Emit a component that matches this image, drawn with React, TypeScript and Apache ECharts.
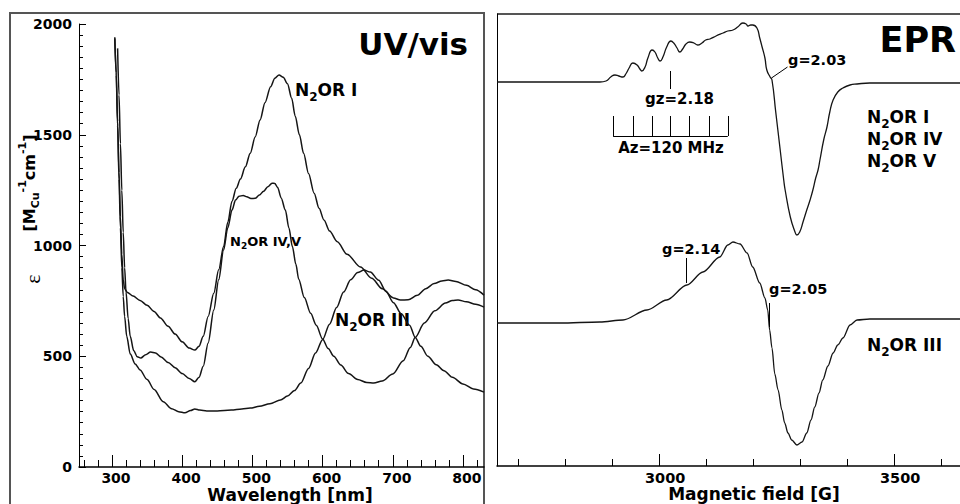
import React, { useEffect, useRef } from "react";
import * as echarts from "echarts";

const FONT = "DejaVu Sans";
const INK = "#151515";

// UV/vis spectra: [wavelength (nm), epsilon (M_Cu^-1 cm^-1)]
const uvN2orI: number[][] = [
  [304, 1940], [306, 1780], [308, 1560], [310, 1330], [312, 1130], [314, 960], [316, 845], [318, 805],
  [322, 788], [330, 772], [340, 752], [350, 730], [360, 702], [369, 673], [380, 635], [390, 600],
  [400, 565], [410, 537], [418, 528], [424, 545], [430, 590], [437, 680], [445, 784], [452, 890],
  [459, 995], [465, 1105], [471, 1200], [477, 1258], [483, 1300], [490, 1355], [497, 1417], [504, 1490],
  [511, 1567], [518, 1645], [526, 1717], [532, 1755], [538, 1770], [544, 1760], [550, 1730], [556, 1665],
  [561, 1585], [567, 1500], [573, 1416], [580, 1325], [588, 1236], [595, 1168], [602, 1115], [610, 1065],
  [621, 1017], [635, 960], [654, 903], [670, 852], [685, 805], [701, 763], [711, 754], [722, 755],
  [735, 775], [747, 805], [759, 828], [770, 840], [779, 844], [790, 838], [805, 820], [818, 800], [830, 776],
];

const uvN2orIVV: number[][] = [
  [308, 1890], [310, 1680], [312, 1460], [314, 1250], [316, 1060], [318, 900], [320, 790], [323, 670],
  [326, 590], [331, 525], [336, 498], [341, 492], [348, 507], [355, 519], [362, 515], [370, 497],
  [380, 472], [390, 448], [400, 422], [410, 400], [418, 385], [424, 405], [430, 455], [437, 560],
  [445, 709], [452, 845], [459, 980], [465, 1080], [471, 1160], [476, 1205], [481, 1222], [487, 1226],
  [492, 1220], [498, 1212], [504, 1213], [510, 1228], [516, 1245], [522, 1265], [528, 1281], [532, 1280],
  [536, 1262], [541, 1215], [547, 1160], [552, 1080], [557, 995], [562, 915], [566, 848], [574, 765],
  [583, 694], [591, 640], [600, 578], [608, 535], [616, 500], [626, 460], [637, 422], [650, 395],
  [663, 382], [673, 379], [685, 388], [700, 420], [715, 480], [725, 540], [732, 585], [745, 650],
  [760, 705], [775, 740], [785, 752], [793, 754], [805, 746], [818, 735], [830, 722],
];

const uvN2orIII: number[][] = [
  [304, 1935], [306, 1770], [308, 1540], [310, 1300], [312, 1080], [314, 900], [316, 770], [318, 680],
  [321, 590], [326, 510], [333, 465], [340, 438], [350, 395], [360, 350], [373, 295], [385, 263],
  [395, 250], [404, 245], [412, 255], [418, 262], [425, 257], [435, 253], [450, 253], [470, 257],
  [485, 262], [497, 266], [510, 274], [525, 286], [540, 302], [550, 320], [560, 345], [569, 379],
  [580, 445], [590, 515], [600, 575], [610, 645], [620, 720], [630, 790], [640, 845], [650, 878],
  [659, 889], [668, 880], [680, 843], [690, 795], [701, 742], [712, 692], [724, 640], [732, 585],
  [740, 545], [750, 500], [762, 462], [773, 435], [785, 405], [800, 375], [815, 352], [830, 338],
];

const uvMajorTicks = [300, 400, 500, 600, 700, 800];
const uvMinorTicks = [260, 280, 320, 340, 360, 380, 420, 440, 460, 480, 520, 540, 560, 580, 620, 640, 660, 680, 720, 740, 760, 780, 820];

// EPR spectra: [magnetic field (G), derivative signal (a.u.)]
const eprUpper: number[][] = [
  [2655, 0], [2874, 0], [2887, 1], [2897, 5], [2906, 7], [2914, 6], [2923, 5], [2929, 8], [2936, 14],
  [2944, 19], [2953, 17], [2959, 13], [2963, 11], [2970, 15], [2976, 24], [2985, 32], [2991, 30],
  [2997, 24], [3002, 21], [3008, 25], [3016, 35], [3025, 41], [3031, 39], [3038, 34], [3044, 30],
  [3050, 33], [3057, 38], [3065, 40], [3074, 39], [3082, 37], [3091, 39], [3099, 42], [3108, 43],
  [3121, 46], [3136, 49], [3146, 51], [3157, 52], [3167, 55], [3178, 59], [3185, 58], [3189, 56],
  [3195, 57], [3199, 57], [3208, 54], [3214, 44], [3219, 35], [3225, 24], [3229, 12], [3236, 5],
  [3240, 2], [3248, -30], [3257, -66], [3265, -98], [3268, -108], [3279, -135], [3289, -150],
  [3293, -153], [3299, -150], [3306, -140], [3314, -128], [3321, -118], [3327, -108], [3333, -96],
  [3338, -88], [3342, -78], [3350, -58], [3357, -45], [3363, -30], [3370, -18], [3380, -10],
  [3391, -6], [3406, -3], [3421, -2], [3448, -1], [3640, -1],
];

const eprLower: number[][] = [
  [2655, -1], [2789, -1], [2874, 0], [2923, 2], [2974, 12], [3016, 22], [3059, 37], [3093, 50],
  [3129, 65], [3146, 77], [3157, 80], [3172, 78], [3187, 69], [3199, 55], [3214, 39], [3225, 24],
  [3231, 12], [3235, -8], [3240, -26], [3246, -52], [3253, -68], [3261, -88], [3267, -101], [3274, -111],
  [3282, -118], [3293, -123], [3304, -120], [3314, -111], [3323, -98], [3331, -85], [3340, -71],
  [3348, -58], [3359, -44], [3370, -31], [3380, -23], [3391, -16], [3406, -3], [3421, 2], [3448, 3], [3640, 3],
];

const eprUpperOffset = 384;
const eprLowerOffset = 144;

const eprMajorTicks = [3000, 3500];
const eprMinorTicks = [2700, 2800, 2900, 3100, 3200, 3300, 3400, 3600];

// EPR annotation marks (field G, signal level a.u.)
const azTicks = [2902, 2944, 2985, 3024, 3065, 3106, 3146];
const azLevel = 330;
const azTickTop = 350;
const gMarkers = [
  { field: 3023, lo: 377, hi: 395 },
  { field: 3057, lo: 183, hi: 208 },
  { field: 3235, lo: 139, hi: 163 },
];
const g203Leader = [[3239, 388], [3273, 399]];

function n2orText(suffix: string, size: number, x: number, y: number) {
  return {
    type: "text",
    x,
    y,
    silent: true,
    style: {
      text: `{m|N}{s|2}{m|OR ${suffix}}`,
      align: "left",
      verticalAlign: "middle",
      fill: "#000",
      rich: {
        m: { fontSize: size, fontWeight: "bold", fontFamily: FONT, lineHeight: size * 1.5, verticalAlign: "middle", fill: "#000" },
        s: { fontSize: Math.round(size * 0.68), fontWeight: "bold", fontFamily: FONT, lineHeight: Math.round(size * 0.68), verticalAlign: "bottom", fill: "#000" },
      },
    },
  };
}

function plainText(text: string, x: number, y: number, size: number, align: string, extra: any = {}) {
  return {
    type: "text",
    x,
    y,
    silent: true,
    style: {
      text,
      align,
      verticalAlign: "middle",
      fontSize: size,
      fontWeight: "bold",
      fontFamily: FONT,
      fill: "#000",
      ...extra,
    },
  };
}

function boldLabel(size: number, pad: number[]) {
  return {
    formatter: (v: number) => `{b|${v}}`,
    rich: { b: { fontSize: size, fontWeight: "bold", fontFamily: FONT, color: "#000", padding: pad } },
    fontFamily: FONT,
    fontWeight: "bold",
    fontSize: size,
    color: "#000",
  };
}

export default function App() {
  const ref = useRef<HTMLDivElement>(null);

  useEffect(() => {
    if (!ref.current) return;
    const chart = echarts.init(ref.current, null, { renderer: "svg" });

    const markLines: any[] = [];
    gMarkers.forEach((m) => {
      markLines.push([{ coord: [m.field, m.lo] }, { coord: [m.field, m.hi] }]);
    });
    markLines.push([{ coord: [azTicks[0], azLevel] }, { coord: [azTicks[azTicks.length - 1], azLevel] }]);
    azTicks.forEach((t) => {
      markLines.push([{ coord: [t, azLevel] }, { coord: [t, azTickTop] }]);
    });
    markLines.push([{ coord: g203Leader[0] }, { coord: g203Leader[1] }]);

    const option: any = {
      animation: false,
      backgroundColor: "#fff",
      textStyle: { fontFamily: FONT },
      grid: [
        { left: 79, top: 24, width: 405, height: 443, outerBoundsMode: "none" },
        { left: 497, top: 14, width: 463, height: 452, outerBoundsMode: "none" },
      ],
      xAxis: [
        {
          gridIndex: 0, type: "value", position: "bottom", min: 253, max: 830,
          axisLine: { show: true, lineStyle: { color: "#000", width: 1.5 } },
          axisTick: { show: true, inside: true, length: 12, customValues: uvMajorTicks, lineStyle: { color: "#000", width: 1 } },
          axisLabel: { ...boldLabel(14, [0, 0, 0, 8]), margin: 4, customValues: uvMajorTicks },
          splitLine: { show: false },
        },
        {
          gridIndex: 0, type: "value", position: "bottom", min: 253, max: 830,
          axisLine: { show: false },
          axisTick: { show: true, inside: true, length: 7, customValues: uvMinorTicks, lineStyle: { color: "#000", width: 1 } },
          axisLabel: { show: false },
          splitLine: { show: false },
        },
        {
          gridIndex: 1, type: "value", position: "bottom", min: 2655, max: 3640,
          axisLine: { show: true, lineStyle: { color: "#000", width: 1.5 } },
          axisTick: { show: true, inside: true, length: 12, customValues: eprMajorTicks, lineStyle: { color: "#000", width: 1 } },
          axisLabel: { ...boldLabel(14.5, [0, 0, 0, 12]), margin: 4, customValues: eprMajorTicks },
          splitLine: { show: false },
        },
        {
          gridIndex: 1, type: "value", position: "bottom", min: 2655, max: 3640,
          axisLine: { show: false },
          axisTick: { show: true, inside: true, length: 7, customValues: eprMinorTicks, lineStyle: { color: "#000", width: 1 } },
          axisLabel: { show: false },
          splitLine: { show: false },
        },
      ],
      yAxis: [
        {
          gridIndex: 0, type: "value", min: 0, max: 2000, interval: 500,
          axisLine: { show: true, lineStyle: { color: "#000", width: 1 } },
          axisTick: { show: true, inside: true, length: 7, lineStyle: { color: "#000" } },
          minorTick: { show: true, splitNumber: 10, length: 4, lineStyle: { color: "#000" } },
          axisLabel: { ...boldLabel(14, [0, 0, 0, 0]), margin: 7 },
          splitLine: { show: false },
          minorSplitLine: { show: false },
        },
        {
          gridIndex: 1, type: "value", min: 0, max: 452,
          axisLine: { show: true, lineStyle: { color: "#000", width: 1 } },
          axisTick: { show: false },
          axisLabel: { show: false },
          splitLine: { show: false },
        },
      ],
      series: [
        { name: "N2OR I", type: "line", xAxisIndex: 0, yAxisIndex: 0, data: uvN2orI, showSymbol: false, smooth: 0.3, smoothMonotone: "x", lineStyle: { color: INK, width: 1.5 }, silent: true },
        { name: "N2OR IV,V", type: "line", xAxisIndex: 0, yAxisIndex: 0, data: uvN2orIVV, showSymbol: false, smooth: 0.3, smoothMonotone: "x", lineStyle: { color: INK, width: 1.5 }, silent: true },
        { name: "N2OR III", type: "line", xAxisIndex: 0, yAxisIndex: 0, data: uvN2orIII, showSymbol: false, smooth: 0.3, smoothMonotone: "x", lineStyle: { color: INK, width: 1.5 }, silent: true },
        {
          name: "EPR N2OR I/IV/V", type: "line", xAxisIndex: 2, yAxisIndex: 1,
          data: eprUpper.map(([g, s]) => [g, s + eprUpperOffset]),
          showSymbol: false, smooth: 0.5, lineStyle: { color: INK, width: 1.3 }, silent: true,
          markLine: {
            silent: true, symbol: ["none", "none"], label: { show: false },
            lineStyle: { color: "#000", width: 1, type: "solid" },
            emphasis: { disabled: true },
            data: markLines,
          },
        },
        {
          name: "EPR N2OR III", type: "line", xAxisIndex: 2, yAxisIndex: 1,
          data: eprLower.map(([g, s]) => [g, s + eprLowerOffset]),
          showSymbol: false, smooth: 0.3, smoothMonotone: "x", lineStyle: { color: INK, width: 1.3 }, silent: true,
        },
      ],
      graphic: {
        elements: [
          { type: "rect", silent: true, shape: { x: 10, y: 13, width: 474, height: 520 }, style: { fill: "none", stroke: "#555", lineWidth: 2 } },
          { type: "line", silent: true, shape: { x1: 497, y1: 14, x2: 960, y2: 14 }, style: { stroke: "#555", lineWidth: 2 } },
          plainText("UV/vis", 468, 44, 31, "right"),
          plainText("EPR", 956, 40, 35, "right"),
          plainText("Wavelength [nm]", 290, 495, 17, "center"),
          plainText("Magnetic field [G]", 754, 494, 17, "center"),
          {
            type: "text", x: 32, y: 279, rotation: Math.PI / 2, silent: true,
            style: { text: "ε", align: "center", verticalAlign: "middle", fontSize: 22, fontFamily: "Liberation Serif", fontWeight: "normal", fill: "#000" },
          },
          {
            type: "text", x: 29, y: 183, rotation: Math.PI / 2, silent: true,
            style: {
              text: "{b|[M}{sub|Cu}{sup|-1}{b|cm}{sup|-1}{b|]}",
              align: "center", verticalAlign: "middle", fill: "#000",
              rich: {
                b: { fontSize: 16, fontWeight: "bold", fontFamily: FONT, lineHeight: 24, verticalAlign: "middle", fill: "#000" },
                sub: { fontSize: 11, fontWeight: "bold", fontFamily: FONT, lineHeight: 11, verticalAlign: "bottom", fill: "#000" },
                sup: { fontSize: 11, fontWeight: "bold", fontFamily: FONT, lineHeight: 11, verticalAlign: "top", fill: "#000" },
              },
            },
          },
          n2orText("I", 17, 295, 90),
          n2orText("IV,V", 13, 230, 241),
          n2orText("III", 17, 335, 320),
          n2orText("I", 17, 867, 117),
          n2orText("IV", 17, 867, 139),
          n2orText("V", 17, 867, 161),
          n2orText("III", 17, 867, 345),
          plainText("g=2.03", 788, 60, 14.5, "left"),
          plainText("gz=2.18", 645, 98.5, 15, "left"),
          plainText("Az=120 MHz", 671, 148, 15, "center"),
          plainText("g=2.14", 662, 248.5, 14.5, "left"),
          plainText("g=2.05", 769, 288.5, 14.5, "left"),
        ],
      },
    };

    chart.setOption(option);
    return () => chart.dispose();
  }, []);

  return <div ref={ref} style={{ position: "fixed", left: 0, top: 0, width: 960, height: 504, background: "#fff" }} />;
}
